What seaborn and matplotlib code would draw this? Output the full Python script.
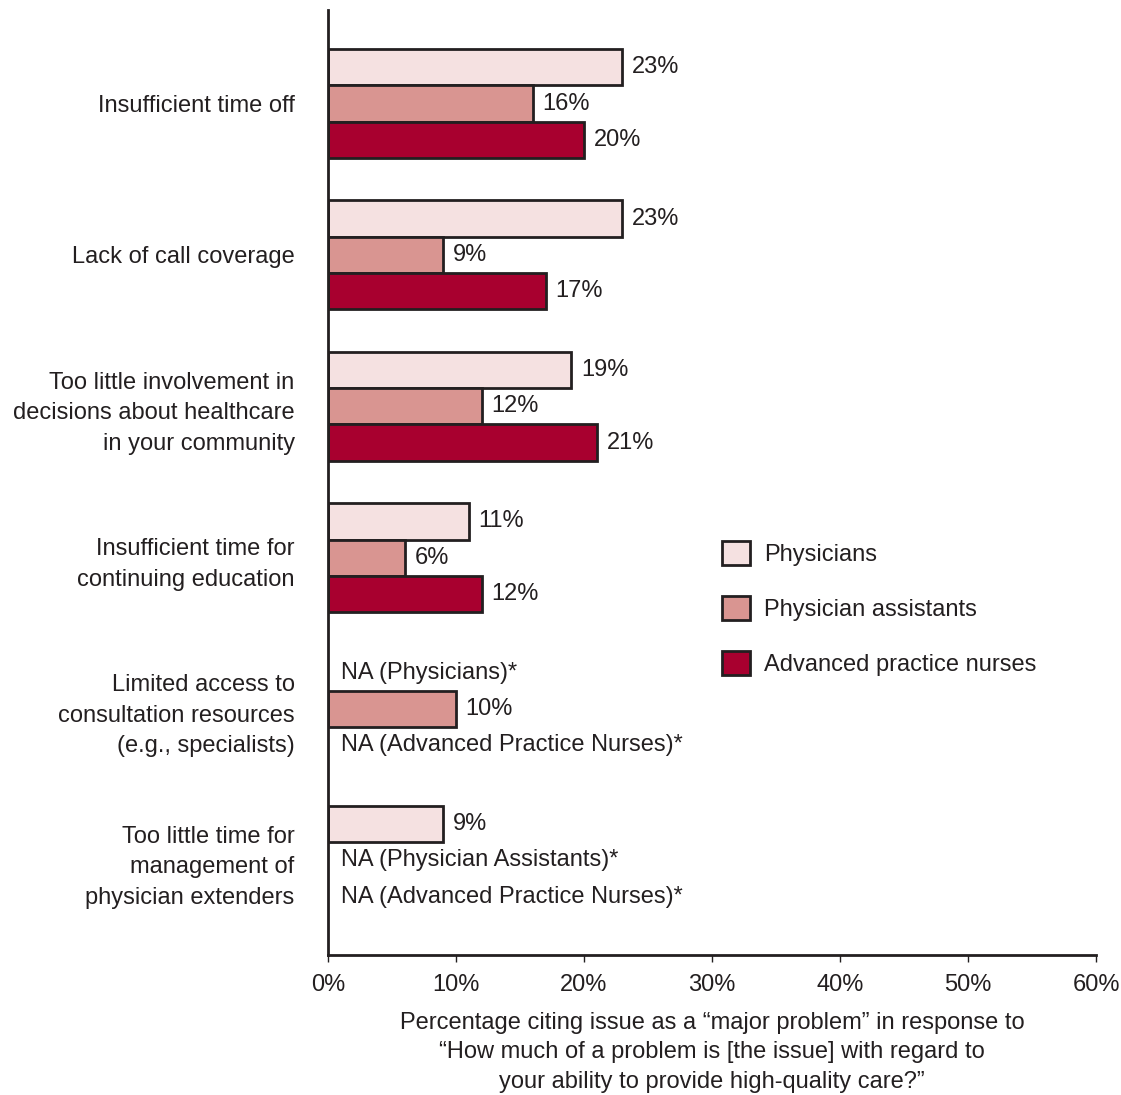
import numpy as np
import pandas as pd
import seaborn as sns
from matplotlib import pyplot as plt

# Data (NaN = not asked of that group)
issues = [
    "Insufficient time off",
    "Lack of call coverage",
    "Too little involvement in\ndecisions about healthcare\nin your community",
    "Insufficient time for\ncontinuing education",
    "Limited access to\nconsultation resources\n(e.g., specialists)",
    "Too little time for\nmanagement of\nphysician extenders",
]
groups = ["Physicians", "Physician assistants", "Advanced practice nurses"]
physicians = [23, 23, 19, 11, np.nan, 9]
physician_assistants = [16, 9, 12, 6, 10, np.nan]
advanced_practice_nurses = [20, 17, 21, 12, np.nan, np.nan]
na_labels = ["NA (Physicians)*", "NA (Physician Assistants)*", "NA (Advanced Practice Nurses)*"]
colors = ["#F5E1E1", "#D99591", "#A8002F"]

df = pd.DataFrame({
    "issue": issues * 3,
    "group": np.repeat(groups, len(issues)),
    "value": physicians + physician_assistants + advanced_practice_nurses,
})

sns.set_style("white")
plt.rcParams["font.family"] = ["Liberation Sans", "DejaVu Sans"]
text_color = "#231F20"
fs = 17

fig = plt.figure(figsize=(11.21, 10.95), dpi=100)
ax = fig.add_axes([0.2926, 0.1279, 0.6851, 0.863])

width = 0.72
sns.barplot(data=df.dropna(), x="value", y="issue", hue="group", order=issues,
            hue_order=groups, palette=colors, saturation=1, orient="h", width=width,
            edgecolor=text_color, linewidth=2, errorbar=None, ax=ax)

# value labels and NA notes
bar_h = width / 3
for gi, vals in enumerate([physicians, physician_assistants, advanced_practice_nurses]):
    for i, v in enumerate(vals):
        y = i + (gi - 1) * bar_h
        if np.isnan(v):
            ax.annotate(na_labels[gi], (0, y), xytext=(9, 0), textcoords="offset points",
                        va="center", ha="left", fontsize=fs, color=text_color)
        else:
            ax.annotate(f"{v:.0f}%", (v, y), xytext=(7, 0), textcoords="offset points",
                        va="center", ha="left", fontsize=fs, color=text_color)

ax.set_xlim(0, 60)
ax.set_ylim(5.624, -0.618)
ax.set_xticks(range(0, 61, 10))
ax.set_xticklabels([f"{t}%" for t in range(0, 61, 10)])
ax.tick_params(axis="x", length=5, width=1, color=text_color, labelsize=fs,
               labelcolor=text_color, pad=9, bottom=True)
ax.tick_params(axis="y", length=0, labelsize=fs, labelcolor=text_color, pad=24)
for lbl in ax.get_yticklabels():
    lbl.set_linespacing(1.5)

for s in ["top", "right"]:
    ax.spines[s].set_visible(False)
for s in ["left", "bottom"]:
    ax.spines[s].set_color(text_color)
    ax.spines[s].set_linewidth(2)

ax.set_ylabel("")
ax.set_xlabel("Percentage citing issue as a \u201cmajor problem\u201d in response to\n"
              "\u201cHow much of a problem is [the issue] with regard to\n"
              "your ability to provide high-quality care?\u201d",
              fontsize=fs, color=text_color, labelpad=11, linespacing=1.45)

ax.legend(loc="upper left", bbox_to_anchor=(0.513, 0.438), frameon=False,
          fontsize=fs, handlelength=1.2, handleheight=1.2, labelspacing=1.27,
          handletextpad=0.6, borderpad=0, borderaxespad=0, labelcolor=text_color)

plt.savefig("out.png", dpi=100)
